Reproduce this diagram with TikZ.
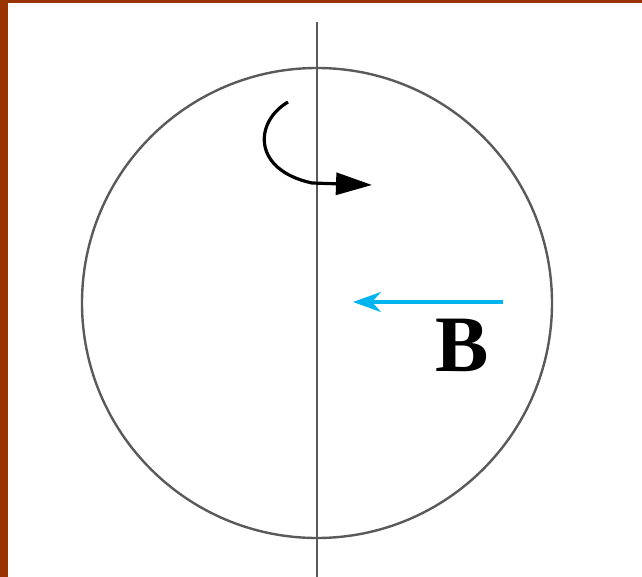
\documentclass[tikz,border=0pt]{standalone}
\usepackage{xcolor}
\usepackage{fontspec}
\setmainfont{Liberation Serif}
\usepackage{tikz}
\usetikzlibrary{arrows.meta}
\definecolor{framebrown}{HTML}{993300}
\definecolor{axisgray}{HTML}{5A5A5A}
\definecolor{fieldblue}{HTML}{00B4F0}

\begin{document}
\begin{tikzpicture}[x=1pt, y=-1pt,
    axisline/.style={draw=axisgray, line width=2.4pt},
    spinarrow/.style={draw=black, line width=3.2pt, -{Triangle[length=36pt, width=22pt]}},
    fieldarrow/.style={draw=fieldblue, line width=3.2pt, -{Stealth[length=28pt, width=20pt]}}]
    % frame and margins
    \fill[white] (0,0) rectangle (642,577);
    \useasboundingbox (0,0) rectangle (642,577);
    \fill[framebrown] (0,0) rectangle (642,3);
    \fill[framebrown] (0,0) rectangle (8,577);
    % sphere and rotation axis
    \node[circle, axisline, minimum size=470pt, inner sep=0pt] (sphere) at (317,303) {};
    \coordinate (axistop) at (317,22);
    \coordinate (axisbot) at (317,577);
    \draw[axisline] (axistop) -- (axisbot);
    % sense of rotation
    \coordinate (spinstart) at (288,102);
    \coordinate (spinend) at (372,185);
    \draw[spinarrow] (spinstart) .. controls (254,122) and (252,170) .. (312,183) -- (spinend);
    % magnetic field
    \coordinate (fieldtail) at (503,302);
    \coordinate (fieldtip) at (353,302);
    \draw[fieldarrow] (fieldtail) -- (fieldtip);
    \node[font=\fontsize{80}{80}\selectfont\bfseries, inner sep=0pt] (fieldlabel) at (462,345) {B};
  \end{tikzpicture}
\end{document}
